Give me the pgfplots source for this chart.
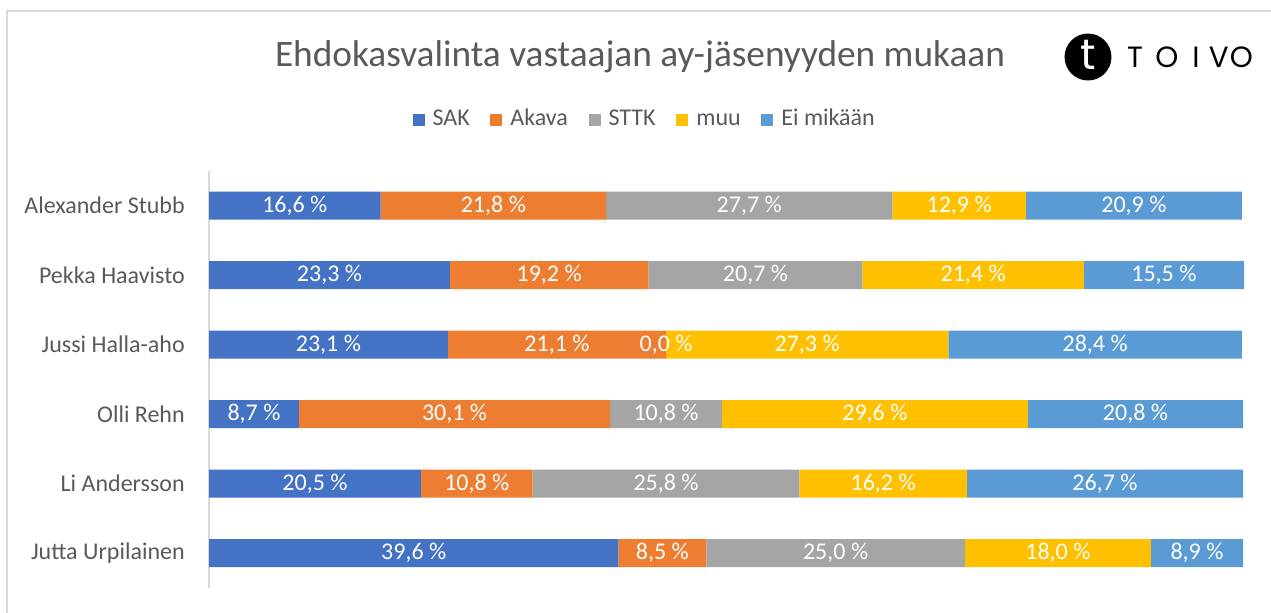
\documentclass[border=0pt]{standalone}
\usepackage{fontspec}
\setmainfont{Carlito}
\newfontfamily\logofont{Poppins}
\usepackage{pgfplots}
\pgfplotsset{compat=1.18}
\definecolor{sak}{HTML}{4472C4}
\definecolor{akava}{HTML}{ED7D31}
\definecolor{sttk}{HTML}{A5A5A5}
\definecolor{muu}{HTML}{FFC000}
\definecolor{eimi}{HTML}{5B9BD5}
\definecolor{txt}{HTML}{595959}
\definecolor{framegray}{HTML}{D9D9D9}
\begin{document}
\begin{tikzpicture}
\path[use as bounding box] (0,0) rectangle (953.25pt,-459.75pt);
\begin{scope}
\clip (0,0) rectangle (953.25pt,-459.75pt);
\draw[framegray, line width=1pt] (5.25pt,-500pt) -- (5.25pt,-8.25pt) -- (1000pt,-8.25pt);
\end{scope}
\node[text=txt, font=\fontsize{28}{32}\selectfont] at (480pt,-42.75pt) {Ehdokasvalinta vastaajan ay-jäsenyyden mukaan};
% logo
\fill[black] (816pt,-42.75pt) circle (17.6pt);
\node[text=white, font=\logofont\fontsize{32}{32}\selectfont] at (816pt,-41.5pt) {t};
\foreach \xx/\ll in {851.25/T,875.25/O,897/I,914/V,931/O}{
  \node[text=black, font=\logofont\fontsize{22}{22}\selectfont] at (\xx pt,-42.75pt) {\ll};
}
\begin{axis}[
  at={(156.75pt,-128.25pt)}, anchor=north west,
  width=775.5pt, height=312.75pt, scale only axis,
  xbar stacked, bar width=21pt,
  xmin=0, xmax=100, ymin=-0.5, ymax=5.5,
  hide x axis,
  axis y line=left,
  y axis line style={-, draw=framegray, line width=1pt},
  ytick={0,1,2,3,4,5},
  yticklabels={Jutta Urpilainen, Li Andersson, Olli Rehn, Jussi Halla-aho, Pekka Haavisto, Alexander Stubb},
  major tick length=0pt,
  yticklabel style={font=\fontsize{18}{20}\selectfont, text=txt, inner sep=0pt, anchor=east, xshift=-18pt},
  clip=false,
  legend columns=-1,
  legend style={at={(0.4217,1.123)}, anchor=center, draw=none, fill=none,
    font=\fontsize{18}{20}\selectfont, text=txt,
    nodes={text height=12pt, text depth=3pt},
    /tikz/every odd column/.append style={column sep=4pt},
    /tikz/every even column/.append style={column sep=13.5pt}},
  legend image code/.code={\fill[#1] (0pt,-4.5pt) rectangle (9pt,4.5pt);},
]
\addplot[fill=sak, draw=none] coordinates {(39.6,0) (20.5,1) (8.7,2) (23.1,3) (23.3,4) (16.6,5)};
\addplot[fill=akava, draw=none] coordinates {(8.5,0) (10.8,1) (30.1,2) (21.1,3) (19.2,4) (21.8,5)};
\addplot[fill=sttk, draw=none] coordinates {(25.0,0) (25.8,1) (10.8,2) (0.0,3) (20.7,4) (27.7,5)};
\addplot[fill=muu, draw=none] coordinates {(18.0,0) (16.2,1) (29.6,2) (27.3,3) (21.4,4) (12.9,5)};
\addplot[fill=eimi, draw=none] coordinates {(8.9,0) (26.7,1) (20.8,2) (28.4,3) (15.5,4) (20.9,5)};
\legend{SAK,Akava,STTK,muu,Ei mikään}
\end{axis}
\begin{axis}[
  at={(156.75pt,-128.25pt)}, anchor=north west,
  width=775.5pt, height=312.75pt, scale only axis,
  xmin=0, xmax=100, ymin=-0.5, ymax=5.5,
  hide axis, clip=false,
]
\addplot[draw=none, mark=none, nodes near coords, point meta=explicit symbolic,
  every node near coord/.append style={anchor=center, text=white, font=\fontsize{18}{20}\selectfont, inner sep=0pt}]
coordinates {
(8.3,5) [16,6 \%] (27.5,5) [21,8 \%] (52.25,5) [27,7 \%] (72.55,5) [12,9 \%] (89.45,5) [20,9 \%]
(11.65,4) [23,3 \%] (32.9,4) [19,2 \%] (52.85,4) [20,7 \%] (73.9,4) [21,4 \%] (92.35,4) [15,5 \%]
(11.55,3) [23,1 \%] (33.65,3) [21,1 \%] (44.2,3) [0,0 \%] (57.85,3) [27,3 \%] (85.7,3) [28,4 \%]
(4.35,2) [8,7 \%] (23.75,2) [30,1 \%] (44.2,2) [10,8 \%] (64.4,2) [29,6 \%] (89.6,2) [20,8 \%]
(10.25,1) [20,5 \%] (25.9,1) [10,8 \%] (44.2,1) [25,8 \%] (65.2,1) [16,2 \%] (86.65,1) [26,7 \%]
(19.8,0) [39,6 \%] (43.85,0) [8,5 \%] (60.6,0) [25,0 \%] (82.1,0) [18,0 \%] (95.55,0) [8,9 \%]
};
\end{axis}
\end{tikzpicture}
\end{document}
